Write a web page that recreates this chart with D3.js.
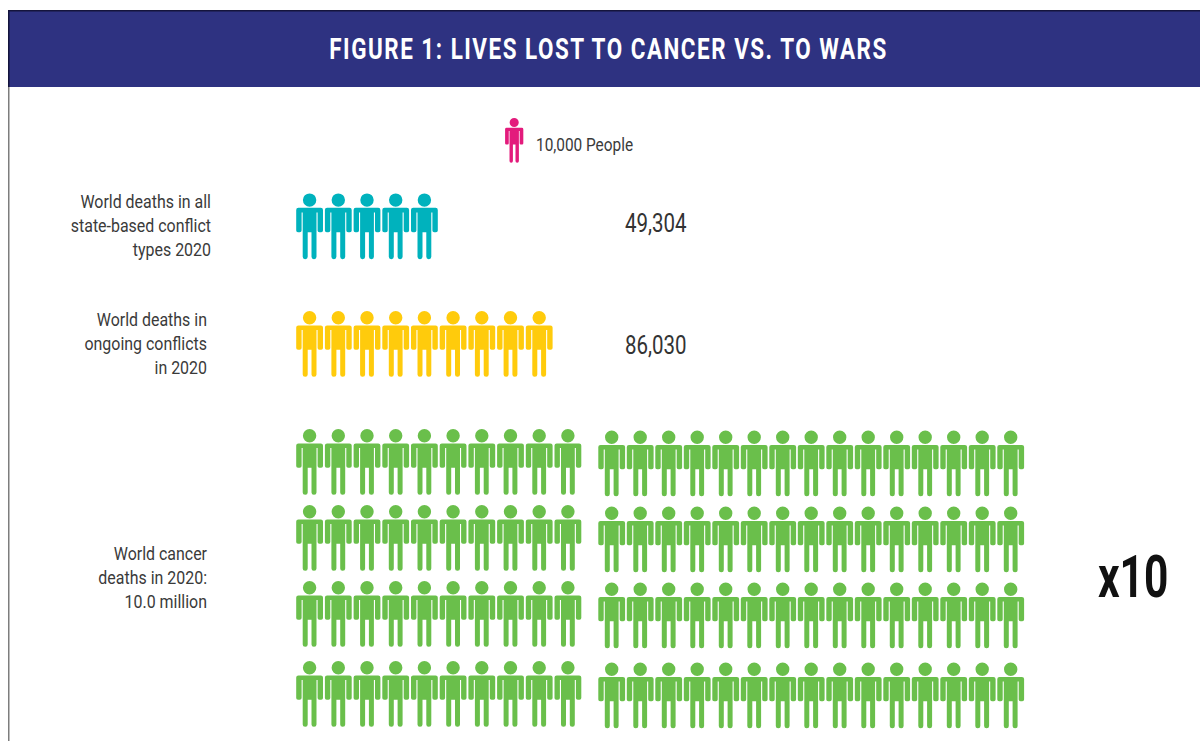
<!DOCTYPE html>
<html>
<head>
<meta charset="utf-8">
<script src="https://cdnjs.cloudflare.com/ajax/libs/d3/7.8.5/d3.min.js"></script>
<style>
html, body { margin: 0; padding: 0; background: #fff; overflow: hidden; }
text { font-family: Roboto, "Liberation Sans", sans-serif; }
</style>
</head>
<body>
<div id="chart-area"></div>
<script>
/*
*    lives lost to cancer vs. to wars - one icon is 10,000 people
*/
var title = "FIGURE 1: LIVES LOST TO CANCER VS. TO WARS";
var legendLabel = "10,000 People";
var multiplierLabel = "x10";

var categories = ["conflict", "ongoing", "cancer"];
var deaths = [49304, 86030, 10000000];
var valueLabels = ["49,304", "86,030", ""];
var iconCounts = [5, 9, 100];
var categoryLines = [
    ["World deaths in all", "state-based conflict", "types 2020"],
    ["World deaths in", "ongoing conflicts", "in 2020"],
    ["World cancer", "deaths in 2020:", "10.0 million"]
];
var colors = ["#00b2bd", "#ffcb0c", "#6abf4b"];
var legendColor = "#e31b7c";

var width = 1200;
var height = 741;

var svg = d3.select("#chart-area").append("svg")
    .attr("width", width)
    .attr("height", height)
    .style("display", "block");

// frame and header
svg.append("rect").attr("x", 8).attr("y", 87).attr("width", 1.5).attr("height", height - 87).attr("fill", "#7d7d7d");
svg.append("rect").attr("x", 8).attr("y", 10).attr("width", width - 8).attr("height", 77).attr("fill", "#2e3281");
svg.append("rect").attr("x", 8).attr("y", 10).attr("width", width - 8).attr("height", 1.5).attr("fill", "#14143c");
svg.append("rect").attr("x", 8).attr("y", 10).attr("width", 1.5).attr("height", 77).attr("fill", "#14143c");

// condensed text: Roboto squeezed sideways
function label(x, y, txt, size, anchor, fill, weight, squeeze) {
    return svg.append("text")
        .attr("transform", "translate(" + x + "," + y + ") scale(" + squeeze + ",1)")
        .attr("text-anchor", anchor)
        .attr("font-size", size + "px")
        .attr("font-weight", weight)
        .attr("fill", fill)
        .text(txt);
}

label(608.5, 59, title, 29.5, "middle", "#fff", 700, 0.76).attr("letter-spacing", "2px");

// person icon, drawn for a box 27 wide and 66 high, origin top centre
var personPath = d3.path();
function person(p) {
    p.moveTo(-13.4, 16.6);
    p.arcTo(-13.4, 14.4, -11.2, 14.4, 2.2);
    p.lineTo(11.2, 14.4);
    p.arcTo(13.4, 14.4, 13.4, 16.6, 2.2);
    p.lineTo(13.4, 37);
    p.arcTo(13.4, 38.8, 11.6, 38.8, 1.8);
    p.lineTo(9.8, 38.8);
    p.arcTo(8, 38.8, 8, 37, 1.8);
    p.lineTo(8, 19);
    p.lineTo(6.9, 19);
    p.lineTo(6.9, 63.4);
    p.arcTo(6.9, 65.8, 4.5, 65.8, 2.4);
    p.lineTo(4.3, 65.8);
    p.arcTo(1.9, 65.8, 1.9, 63.4, 2.4);
    p.lineTo(1.9, 38.8);
    p.lineTo(-1.9, 38.8);
    p.lineTo(-1.9, 63.4);
    p.arcTo(-1.9, 65.8, -4.3, 65.8, 2.4);
    p.lineTo(-4.5, 65.8);
    p.arcTo(-6.9, 65.8, -6.9, 63.4, 2.4);
    p.lineTo(-6.9, 19);
    p.lineTo(-8, 19);
    p.lineTo(-8, 37);
    p.arcTo(-8, 38.8, -9.8, 38.8, 1.8);
    p.lineTo(-11.6, 38.8);
    p.arcTo(-13.4, 38.8, -13.4, 37, 1.8);
    p.closePath();
    p.moveTo(6.7, 6.7);
    p.arc(0, 6.7, 6.7, 0, Math.PI * 2);
    p.closePath();
    return p;
}
person(personPath);

function drawIcons(cells, color) {
    svg.append("g").selectAll("path")
        .data(cells)
        .enter()
        .append("path")
        .attr("d", personPath.toString())
        .attr("fill", color)
        .attr("transform", (d) => { return "translate(" + d.x + "," + d.y + ")"; });
}

// icon index to pixel position
var rowX = d3.scaleLinear().domain([0, 1]).range([309.6, 338.3]);
var blockX = d3.scaleLinear().domain([0, 1]).range([611.7, 640.2]);
var gridY = d3.scaleLinear().domain([0, 1, 2, 3]).range([429, 505, 581, 661]);

// small multiples: one row for each war series
var rowTops = d3.scaleOrdinal().domain(categories).range([193.4, 311]);
categories.slice(0, 2).forEach((c, i) => {
    var cells = d3.range(iconCounts[i]).map((n) => {
        return { x: rowX(n), y: rowTops(c) };
    });
    drawIcons(cells, colors[i]);
    label(625, i == 0 ? 232 : 354, valueLabels[i], 25, "start", "#333", 400, 0.82);
});

// cancer: 100 icons, 4 rows of 10 + 15, each one stands for 10x as many
var cancerCells = d3.range(iconCounts[2]).map((n) => {
    var row = Math.floor(n / 25), col = n % 25;
    if (col < 10) return { x: rowX(col), y: gridY(row) };
    return { x: blockX(col - 10), y: gridY(row) + 1.5 };
});
drawIcons(cancerCells, colors[2]);

// legend
svg.append("g").append("path")
    .attr("d", personPath.toString())
    .attr("fill", legendColor)
    .attr("transform", "translate(514.2,118) scale(0.68)");
label(536, 151, legendLabel, 19, "start", "#3a3a3a", 400, 0.81);

// category labels
var labelRight = [211, 207, 207];
var labelTop = [208, 326, 560];
categoryLines.forEach((lines, i) => {
    lines.forEach((line, j) => {
        label(labelRight[i], labelTop[i] + j * 24, line, 19, "end", "#3a3a3a", 400, 0.84);
    });
});

label(1098, 597, multiplierLabel, 59, "start", "#111", 700, 0.72);
</script>
</body>
</html>
